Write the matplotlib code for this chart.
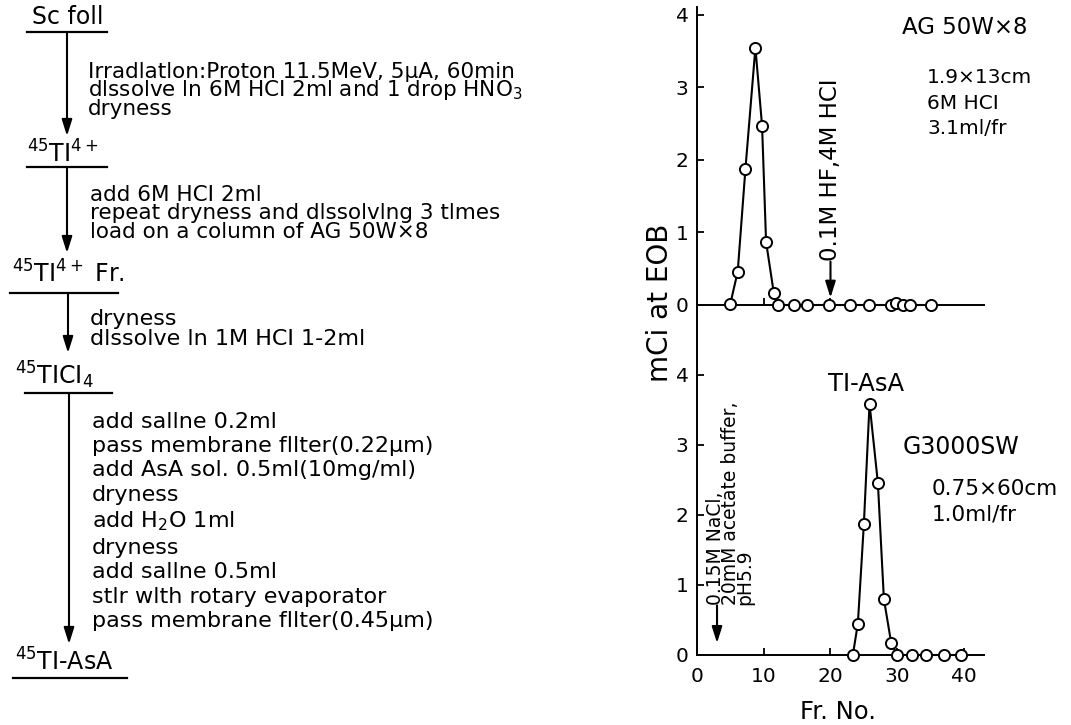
import matplotlib
matplotlib.use('Agg')
import matplotlib.pyplot as plt

plt.rcParams['font.family'] = ['DejaVu Sans']
plt.rcParams['mathtext.default'] = 'regular'

# AG 50W x8 column (upper chromatogram)
ag_fr = [5.0, 6.1, 7.25, 8.75, 9.75, 10.35, 11.5, 12.1, 14.5, 16.5, 19.75,
         22.85, 25.75, 29.0, 29.85, 30.9, 31.9, 35.0]
ag_mci = [0.02, 0.46, 1.87, 3.55, 2.47, 0.87, 0.17, 0.0, 0.0, 0.0, 0.0,
          0.0, 0.0, 0.0, 0.03, 0.0, 0.0, 0.0]

# G3000SW column (lower chromatogram)
g_fr = [23.35, 24.1, 25.0, 25.85, 27.1, 28.0, 29.1, 30.0, 32.25, 34.25, 37.0, 39.5]
g_mci = [0.0, 0.45, 1.87, 3.59, 2.46, 0.80, 0.17, 0.0, 0.0, 0.0, 0.0, 0.0]

y_ticks = [0, 1, 2, 3, 4]
x_ticks = [0, 10, 20, 30, 40]

# flow scheme text
nodes = ['Sc foll', '$^{45}$TI$^{4+}$', '$^{45}$TI$^{4+}$ Fr.',
         '$^{45}$TICI$_4$', '$^{45}$TI-AsA']
step_1 = ['Irradlatlon:Proton 11.5MeV, 5μA, 60min',
          'dlssolve ln 6M HCI 2ml and 1 drop HNO$_3$',
          'dryness']
step_2 = ['add 6M HCI 2ml',
          'repeat dryness and dlssolvlng 3 tlmes',
          'load on a column of AG 50W×8']
step_3 = ['dryness',
          'dlssolve ln 1M HCI 1-2ml']
step_4 = ['add sallne 0.2ml',
          'pass membrane fllter(0.22μm)',
          'add AsA sol. 0.5ml(10mg/ml)',
          'dryness',
          'add H$_2$O 1ml',
          'dryness',
          'add sallne 0.5ml',
          'stlr wlth rotary evaporator',
          'pass membrane fllter(0.45μm)']
eluent_2 = ['0.15M NaCl,', '20mM acetate buffer,', 'pH5.9']

W, H = 1071, 725
fig = plt.figure(figsize=(W / 100, H / 100), dpi=100)


def box(x0, y0, x1, y1):
    """ pixel box (top-left origin) -> figure fraction rect """
    return [x0 / W, 1 - y1 / H, (x1 - x0) / W, (y1 - y0) / H]


def spacing(px, size):
    # linespacing factor giving a baseline distance of px for DejaVu at size pt
    em = size * 100 / 72
    return (px / em - 0.21) / 0.76


ax_top = fig.add_axes(box(697, 7, 984, 305))
ax_bot = fig.add_axes(box(697, 305, 984, 655))

for ax in (ax_top, ax_bot):
    ax.set_facecolor('none')
    ax.set_xlim(0, 43)
    ax.spines['right'].set_visible(False)
    ax.spines['top'].set_visible(False)
    ax.spines['left'].set_linewidth(1.4)
    ax.spines['bottom'].set_linewidth(1.4)
    ax.tick_params(direction='in', length=5, width=1.3, labelsize=14.5, pad=6)
    ax.set_yticks(y_ticks)

ax_top.set_ylim(0, 4.11)
ax_bot.set_ylim(0, 5.0)
ax_top.set_xticks([10, 20, 30])
ax_top.tick_params(axis='x', labelbottom=False)
ax_bot.set_xticks(x_ticks)
ax_bot.tick_params(axis='x', pad=9)

style = dict(color='black', lw=1.5, marker='o', ms=8, mfc='white',
             mec='black', mew=1.4, clip_on=False, zorder=3)
ax_top.plot(ag_fr, ag_mci, **style)
ax_bot.plot(g_fr, g_mci, **style)

arrow = dict(arrowstyle='-|>,head_length=0.7,head_width=0.22', color='black',
             lw=1.5, mutation_scale=14, shrinkA=0, shrinkB=0)

# eluent change (upper)
ax_top.annotate('', xy=(20, 0.1), xytext=(20, 0.6), arrowprops=arrow)
ax_top.text(20, 0.6, '0.1M HF,4M HCI', rotation=90, ha='center', va='bottom',
            fontsize=16.5)

# eluent (lower)
ax_bot.annotate('', xy=(3.0, 0.17), xytext=(3.0, 0.71), arrowprops=arrow)
ax_bot.text(5.0, 0.71, '\n'.join(eluent_2), rotation=90, ha='center',
            va='bottom', multialignment='left', fontsize=13.5,
            linespacing=spacing(14, 13.5))

# overlay in pixel coordinates for labels and flow scheme
bg = fig.add_axes([0, 0, 1, 1])
bg.set_xlim(0, W)
bg.set_ylim(H, 0)
bg.axis('off')

bg.text(660, 303, 'mCi at EOB', rotation=90, ha='center', va='center', fontsize=20)
bg.text(838, 712, 'Fr. No.', ha='center', va='center', fontsize=17.5)

bg.text(902, 27, 'AG 50W×8', va='center', fontsize=16.5)
bg.text(927, 103, '1.9×13cm\n6M HCI\n3.1ml/fr', va='center', fontsize=14.5,
        linespacing=spacing(26, 14.5))
bg.text(828, 384, 'TI-AsA', va='center', fontsize=17.5)
bg.text(903, 447, 'G3000SW', va='center', fontsize=17)
bg.text(932, 502, '0.75×60cm\n1.0ml/fr', va='center', fontsize=15.5,
        linespacing=spacing(27, 15.5))


def node(label, x, base, ux0, ux1, uy):
    bg.text(x, base, label, va='baseline', fontsize=17)
    bg.plot([ux0, ux1], [uy, uy], color='black', lw=1.6)


def step(x, y0, y1, lines, tx, last_base, dy, size):
    bg.annotate('', xy=(x, y1), xytext=(x, y0), arrowprops=arrow)
    # va='baseline' on multi-line text anchors the last line
    bg.text(tx, last_base, '\n'.join(lines), va='baseline', fontsize=size,
            linespacing=spacing(dy, size))


node(nodes[0], 32, 24, 27, 107, 32)
step(67, 32, 136, step_1, 88, 115, 17.5, 15.5)
node(nodes[1], 27, 163, 27, 107, 167)
step(67, 167, 253, step_2, 90, 238, 19.5, 15.5)
node(nodes[2], 12, 283, 10, 118, 293)
step(68, 293, 353, step_3, 90, 345, 22, 16)
node(nodes[3], 15, 384, 25, 112, 393)
step(69, 393, 644, step_4, 92, 627, 26.2, 16)
node(nodes[4], 15, 671, 13, 127, 678)

fig.savefig('out.png', dpi=100)
